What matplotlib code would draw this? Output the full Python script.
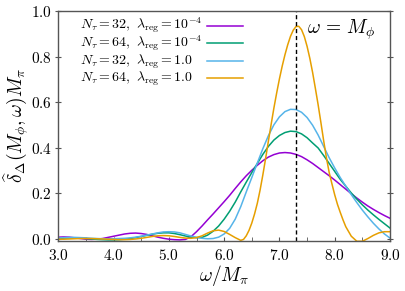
import matplotlib
matplotlib.use("Agg")
import matplotlib.pyplot as plt
from matplotlib.ticker import MultipleLocator, FuncFormatter

plt.rcParams["mathtext.fontset"] = "cm"
plt.rcParams["font.family"] = "serif"

# ── Data ──────────────────────────────────────────────────────────────────────
omega = [3.0, 3.1, 3.2, 3.3, 3.4, 3.5, 3.6, 3.7, 3.8, 3.9,
         4.0, 4.1, 4.2, 4.3, 4.4, 4.5, 4.6, 4.7, 4.8, 4.9,
         5.0, 5.1, 5.2, 5.3, 5.4, 5.5, 5.6, 5.7, 5.8, 5.9,
         6.0, 6.1, 6.2, 6.3, 6.4, 6.5, 6.6, 6.7, 6.8, 6.9,
         7.0, 7.1, 7.2, 7.3, 7.4, 7.5, 7.6, 7.7, 7.8, 7.9,
         8.0, 8.1, 8.2, 8.3, 8.4, 8.5, 8.6, 8.7, 8.8, 8.9, 9.0]

d_32_small = [0.006, 0.007, 0.006, 0.003, 0.000, -0.003, -0.004, -0.003, 0.000, 0.005,
              0.010, 0.015, 0.020, 0.023, 0.024, 0.022, 0.018, 0.012, 0.006, 0.001,
              -0.003, -0.005, -0.006, -0.004, 0.008, 0.030, 0.055, 0.082, 0.108, 0.135,
              0.162, 0.190, 0.220, 0.249, 0.276, 0.300, 0.322, 0.342, 0.358, 0.369,
              0.376, 0.378, 0.376, 0.370, 0.360, 0.346, 0.330, 0.312, 0.294, 0.276,
              0.257, 0.237, 0.217, 0.197, 0.178, 0.160, 0.143, 0.128, 0.114, 0.101, 0.089]

d_64_small = [0.000, 0.002, 0.003, 0.003, 0.002, 0.000, -0.002, -0.004, -0.005, -0.006,
              -0.006, -0.005, -0.003, 0.000, 0.004, 0.009, 0.014, 0.019, 0.023, 0.025,
              0.025, 0.022, 0.017, 0.011, 0.006, 0.004, 0.005, 0.015, 0.032, 0.055,
              0.085, 0.120, 0.160, 0.205, 0.248, 0.290, 0.330, 0.370, 0.405, 0.433,
              0.453, 0.466, 0.472, 0.470, 0.460, 0.443, 0.420, 0.398, 0.365, 0.330,
              0.295, 0.260, 0.230, 0.200, 0.173, 0.148, 0.125, 0.104, 0.084, 0.065, 0.046]

d_32_one = [0.002, 0.004, 0.005, 0.005, 0.004, 0.003, 0.001, 0.000, -0.001, -0.001,
            -0.001, 0.000, 0.001, 0.003, 0.006, 0.010, 0.015, 0.020, 0.025, 0.029,
            0.030, 0.029, 0.025, 0.018, 0.011, 0.005, 0.001, -0.001, 0.000, 0.006,
            0.020, 0.045, 0.085, 0.140, 0.205, 0.268, 0.332, 0.395, 0.452, 0.500,
            0.535, 0.558, 0.568, 0.567, 0.555, 0.532, 0.498, 0.455, 0.405, 0.355,
            0.310, 0.268, 0.230, 0.193, 0.158, 0.125, 0.095, 0.067, 0.042, 0.020, 0.002]

# orange curve is narrow, so it gets a finer grid around the peak
omega_fine = [3.0, 3.1, 3.2, 3.3, 3.4, 3.5, 3.6, 3.7, 3.8, 3.9,
              4.0, 4.1, 4.2, 4.3, 4.4, 4.5, 4.6, 4.7, 4.8, 4.9,
              5.0, 5.1, 5.2, 5.3, 5.4, 5.5, 5.6, 5.7, 5.8, 5.9,
              6.0, 6.1, 6.2, 6.3, 6.35, 6.4, 6.45, 6.5, 6.55, 6.6, 6.65, 6.7, 6.75,
              6.8, 6.85, 6.9, 6.95, 7.0, 7.05, 7.1, 7.15, 7.2, 7.25, 7.3, 7.35,
              7.4, 7.45, 7.5, 7.55, 7.6, 7.65, 7.7, 7.75, 7.8, 7.85, 7.9, 7.95,
              8.0, 8.05, 8.1, 8.15, 8.2, 8.3, 8.4, 8.5, 8.6, 8.7, 8.8, 8.9, 9.0]
d_64_one = [-0.003, -0.003, -0.002, -0.001, 0.000, 0.000, 0.000, -0.001, -0.002, -0.003,
            -0.004, -0.005, -0.005, -0.004, -0.002, 0.001, 0.005, 0.009, 0.012, 0.013,
            0.012, 0.009, 0.005, 0.002, 0.001, 0.004, 0.012, 0.024, 0.034, 0.037,
            0.031, 0.018, 0.004, -0.008, -0.004, 0.012, 0.036, 0.068, 0.108, 0.155, 0.213, 0.280, 0.352,
            0.428, 0.502, 0.574, 0.640, 0.702, 0.758, 0.808, 0.852, 0.889, 0.916, 0.932, 0.933,
            0.918, 0.888, 0.845, 0.792, 0.730, 0.660, 0.588, 0.510, 0.430, 0.355, 0.290, 0.240,
            0.192, 0.150, 0.115, 0.082, 0.052, 0.010, -0.012, -0.012, 0.000, 0.014, 0.025, 0.030, 0.030]

labels = [r"$N_\tau = 32,\ \lambda_{\mathrm{reg}} = 10^{-4}$",
          r"$N_\tau = 64,\ \lambda_{\mathrm{reg}} = 10^{-4}$",
          r"$N_\tau = 32,\ \lambda_{\mathrm{reg}} = 1.0$",
          r"$N_\tau = 64,\ \lambda_{\mathrm{reg}} = 1.0$"]
colors = ["#9400D3", "#009E73", "#56B4E9", "#E69F00"]
m_phi = 7.3

fig = plt.figure(figsize=(4.06, 2.91), dpi=100)
ax = fig.add_axes([0.1436, 0.1725, 0.817, 0.7895])

xs_all = [omega, omega, omega, omega_fine]
ys_all = [d_32_small, d_64_small, d_32_one, d_64_one]
for xs, ys, c in zip(xs_all, ys_all, colors):
    ax.plot(xs, ys, color=c, lw=1.1)

ax.axvline(m_phi, color="black", lw=1.0, ls=(0, (3, 2)))
ax.text(7.5, 0.90, r"$\omega\, =\, M_\phi$", fontsize=14, ha="left", va="baseline")

# key drawn by hand: text left-aligned, sample line on the right
key_text_y = [0.922, 0.844, 0.766, 0.692]
key_line_y = [0.936, 0.859, 0.784, 0.710]
for lab, c, ty, ly in zip(labels, colors, key_text_y, key_line_y):
    ax.text(0.065, ty, lab, transform=ax.transAxes, fontsize=10,
            ha="left", va="baseline")
    ax.plot([0.448, 0.557], [ly, ly], transform=ax.transAxes, color=c, lw=1.1)

ax.set_xlim(3.0, 9.0)
ax.set_ylim(-0.01, 1.0)
ax.xaxis.set_major_locator(MultipleLocator(1.0))
ax.xaxis.set_minor_locator(MultipleLocator(0.5))
ax.yaxis.set_major_locator(MultipleLocator(0.2))
fmt = FuncFormatter(lambda v, p: f"${v:.1f}$")
ax.xaxis.set_major_formatter(fmt)
ax.yaxis.set_major_formatter(fmt)
ax.tick_params(axis="x", which="both", direction="in", length=3, color="#555555",
               labelsize=11, pad=5)
ax.tick_params(axis="y", direction="inout", length=5, right=True, color="#555555",
               labelsize=11, pad=2)
for s in ax.spines.values():
    s.set_color("#555555")
    s.set_linewidth(1.0)

ax.set_xlabel(r"$\omega/M_\pi$", fontsize=14, labelpad=0)
ax.set_ylabel(r"$\widehat{\delta}_\Delta(M_\phi,\omega)M_\pi$", fontsize=14)
ax.yaxis.set_label_coords(-0.082, 0.5)

fig.savefig("out.png", dpi=100)
